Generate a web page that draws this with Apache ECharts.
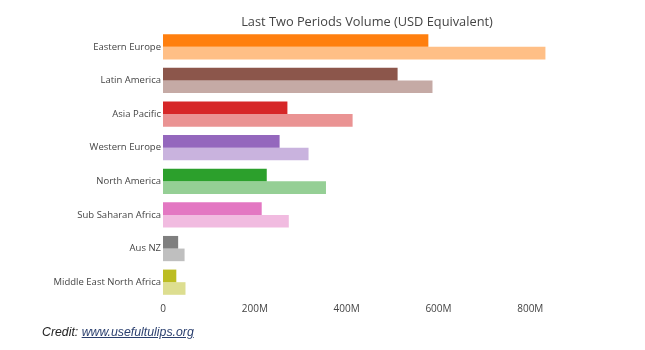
<!DOCTYPE html>
<html>
<head>
<meta charset="utf-8">
<script src="https://cdn.jsdelivr.net/npm/echarts@6/dist/echarts.min.js"></script>
<style>
  html, body { margin: 0; padding: 0; background: #fff; }
  #chartVolume { width: 645px; height: 350px; }
  #credit {
    position: absolute; left: 42px; top: 325px;
    font-family: "Liberation Sans", Arial, sans-serif; font-style: italic;
    font-size: 12.3px; color: #222;
  }
  #credit a { color: #2a3f6e; text-decoration: underline; }
</style>
</head>
<body>
<div id="chartVolume"></div>
<div id="credit">Credit: <a>www.usefultulips.org</a></div>
<script>
// 区域
var regions = ['Eastern Europe', 'Latin America', 'Asia Pacific', 'Western Europe', 'North America', 'Sub Saharan Africa', 'Aus NZ', 'Middle East North Africa'];
// 上一期 / 本期 (百万美元)
var periodA = [578, 511, 271, 254, 226, 215, 33, 29];
var periodB = [833, 587, 413, 317, 355, 274, 47, 49];
// 颜色 (第二期用同色半透明)
var regionColors = ['#ff7f0e', '#8c564b', '#d62728', '#9467bd', '#2ca02c', '#e377c2', '#7f7f7f', '#bcbd22'];

var chartVolume = echarts.init(document.getElementById('chartVolume'));
var option = {
  textStyle: {
    fontFamily: '"Open Sans", sans-serif'
  },
  title: {
    text: 'Last Two Periods Volume (USD Equivalent)',
    left: 362,
    textAlign: 'center',
    top: 11,
    textStyle: {
      color: '#444',
      fontSize: 12.8,
      fontWeight: 'normal'
    }
  },
  grid: {
    left: 163,
    right: 78,
    top: 30,
    bottom: 51
  },
  // x轴
  xAxis: {
    type: 'value',
    min: 0,
    max: 880,
    interval: 200,
    splitLine: { show: false },
    axisLine: { show: false },
    axisTick: { show: false },
    axisLabel: {
      color: '#444',
      fontSize: 10,
      margin: 5,
      showMaxLabel: false,
      formatter: function (v) {
        return v === 0 ? '0' : v + 'M';
      }
    }
  },
  // y轴
  yAxis: {
    type: 'category',
    data: regions,
    inverse: true,
    axisLine: { show: false },
    axisTick: { show: false },
    axisLabel: {
      color: '#444',
      fontSize: 9.5,
      margin: 2
    }
  },
  // 数据
  series: [
    {
      type: 'bar',
      data: periodA.map(function (v, i) {
        return { value: v, itemStyle: { color: regionColors[i] } };
      }),
      barGap: 0,
      barCategoryGap: '25%'
    },
    {
      type: 'bar',
      data: periodB.map(function (v, i) {
        return { value: v, itemStyle: { color: regionColors[i], opacity: 0.5 } };
      }),
      barGap: 0,
      barCategoryGap: '25%'
    }
  ]
};
chartVolume.setOption(option);
</script>
</body>
</html>
